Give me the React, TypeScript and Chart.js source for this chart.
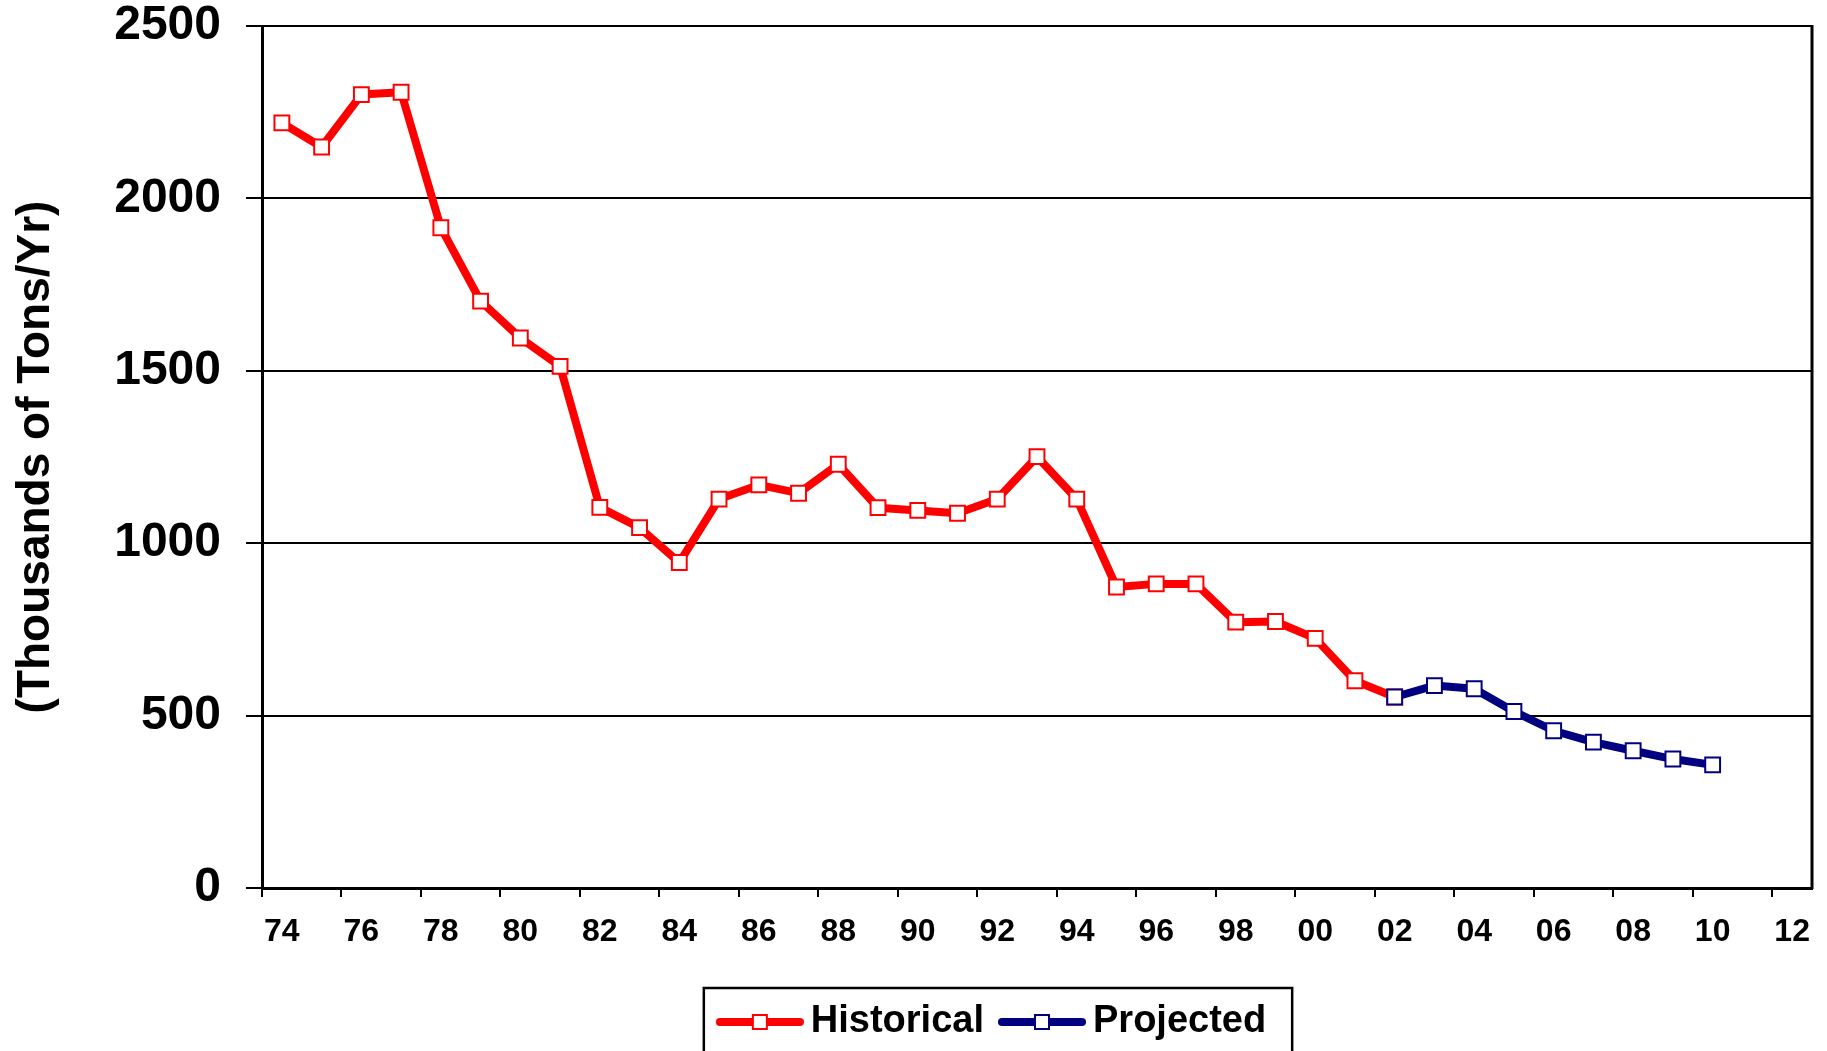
import React, { useEffect, useRef } from 'react';
import { Chart, registerables } from 'chart.js';

Chart.register(...registerables);

// ---- Data ----
const categories = [
  '74', '75', '76', '77', '78', '79', '80', '81', '82', '83',
  '84', '85', '86', '87', '88', '89', '90', '91', '92', '93',
  '94', '95', '96', '97', '98', '99', '00', '01', '02', '03',
  '04', '05', '06', '07', '08', '09', '10', '11', '12',
];

// 1974 .. 2002
const historicalValues = [
  2219, 2149, 2301, 2308, 1915, 1702, 1595, 1513, 1104, 1045,
  944, 1128, 1169, 1145, 1229, 1103, 1095, 1087, 1128, 1251,
  1128, 873, 882, 882, 771, 773, 724, 601, 554,
];

// 2002 .. 2010
const projectedValues = [554, 587, 578, 512, 456, 423, 398, 374, 357];
const projectedStartIndex = 28; // "02"

const yTicks = [0, 500, 1000, 1500, 2000, 2500];

const seriesNames = ['Historical', 'Projected'];

// ---- Styling ----
const FONT = '"Liberation Sans", Arial, Helvetica, sans-serif';
const RED = '#FF0000';
const NAVY = '#000080';
const W = 1827;
const H = 1051;

function makeLegendSample(color: string): HTMLCanvasElement {
  const c = document.createElement('canvas');
  c.width = 111;
  c.height = 20;
  const g = c.getContext('2d')!;
  g.strokeStyle = color;
  g.lineWidth = 8;
  g.lineCap = 'round';
  g.beginPath();
  g.moveTo(23 + 4, 10);
  g.lineTo(111 - 4, 10);
  g.stroke();
  g.fillStyle = '#FFFFFF';
  g.fillRect(67 - 7, 3, 14, 14);
  g.lineWidth = 2;
  g.strokeRect(67 - 7, 3, 14, 14);
  return c;
}

export default function App() {
  const canvasRef = useRef<HTMLCanvasElement | null>(null);

  useEffect(() => {
    document.body.style.margin = '0';
    document.body.style.overflow = 'hidden';
    const canvas = canvasRef.current;
    if (!canvas) return;

    const histData = categories.map((_, i) =>
      i < historicalValues.length ? historicalValues[i] : null
    );
    const projData = categories.map((_, i) => {
      const k = i - projectedStartIndex;
      return k >= 0 && k < projectedValues.length ? projectedValues[k] : null;
    });

    const histSample = makeLegendSample(RED);
    const projSample = makeLegendSample(NAVY);

    const legendPlacer = {
      id: 'legendPlacer',
      afterLayout(chart: any) {
        const lg = chart.legend;
        if (!lg) return;
        const center = 987;
        lg.left = center - 700;
        lg.right = center + 700 - 3;
        lg.width = lg.right - lg.left;
      },
    };

    const frame = {
      id: 'frame',
      afterDraw(chart: any) {
        const { ctx, chartArea: a } = chart;
        ctx.save();
        ctx.strokeStyle = '#000';
        ctx.lineWidth = 3;
        ctx.beginPath();
        ctx.moveTo(a.right, a.top - 1);
        ctx.lineTo(a.right, a.bottom + 1);
        ctx.stroke();
        const lg = chart.legend;
        const hb = lg && lg.legendHitBoxes;
        if (hb && hb.length >= 2) {
          const left = hb[0].left + 11 - 12;
          const last = hb[hb.length - 1];
          const right = last.left + last.width + 26;
          const top = hb[0].top + 19 - 34;
          ctx.lineWidth = 2.5;
          ctx.strokeRect(left, top, right - left, chart.height + 20 - top);
        }
        ctx.restore();
      },
    };

    const chart = new Chart(canvas, {
      type: 'line',
      data: {
        labels: categories,
        datasets: [
          {
            label: seriesNames[1],
            data: projData,
            borderColor: NAVY,
            backgroundColor: NAVY,
            borderWidth: 8,
            borderJoinStyle: 'round',
            borderCapStyle: 'round',
            pointStyle: 'rect',
            pointRadius: 10.5,
            pointBorderWidth: 2,
            pointBorderColor: NAVY,
            pointBackgroundColor: '#FFFFFF',
            tension: 0,
            spanGaps: false,
          },
          {
            label: seriesNames[0],
            data: histData,
            borderColor: RED,
            backgroundColor: RED,
            borderWidth: 8,
            borderJoinStyle: 'round',
            borderCapStyle: 'round',
            pointStyle: 'rect',
            pointRadius: 10.5,
            pointBorderWidth: 2,
            pointBorderColor: RED,
            pointBackgroundColor: '#FFFFFF',
            tension: 0,
            spanGaps: false,
          },
        ],
      },
      options: {
        responsive: false,
        animation: false,
        devicePixelRatio: 1,
        layout: { padding: { top: 26, right: 15, left: 0, bottom: 0 } },
        scales: {
          x: {
            type: 'category',
            offset: true,
            grid: {
              offset: true,
              drawOnChartArea: false,
              drawTicks: true,
              tickLength: 9,
              lineWidth: 2,
              color: (ctx: any) => (ctx.index % 2 === 0 ? '#000000' : 'rgba(0,0,0,0)'),
            },
            border: { display: true, color: '#000000', width: 3 },
            ticks: {
              autoSkip: false,
              maxRotation: 0,
              minRotation: 0,
              padding: 16,
              color: '#000000',
              font: { family: FONT, size: 32, weight: 'bold' },
              callback: (_v: any, i: number) => (i % 2 === 0 ? categories[i] : ''),
            },
            afterFit: (scale: any) => {
              scale.height = 112;
              scale.paddingLeft = 0;
              scale.paddingRight = 0;
            },
          },
          y: {
            type: 'linear',
            min: yTicks[0],
            max: yTicks[yTicks.length - 1],
            grid: {
              color: '#000000',
              lineWidth: 2,
              drawTicks: true,
              tickLength: 16,
            },
            border: { display: true, color: '#000000', width: 3 },
            ticks: {
              stepSize: 500,
              padding: 25,
              color: '#000000',
              font: { family: FONT, size: 48, weight: 'bold' },
              callback: (v: any) => String(v),
            },
            title: {
              display: true,
              text: '(Thousands of Tons/Yr)',
              color: '#000000',
              font: { family: FONT, size: 46, weight: 'bold', lineHeight: 1.2 },
              padding: { top: 9, bottom: 0 },
            },
            afterFit: (scale: any) => {
              scale.width = 262;
              scale.paddingTop = 0;
              scale.paddingBottom = 0;
            },
          },
        },
        plugins: {
          tooltip: { enabled: false },
          title: { display: false },
          legend: {
            display: true,
            position: 'bottom',
            labels: {
              usePointStyle: true,
              pointStyleWidth: 87,
              padding: 3,
              color: '#000000',
              font: { family: FONT, size: 38, weight: 'bold' },
              generateLabels: () => [
                {
                  text: seriesNames[0],
                  pointStyle: histSample,
                  fillStyle: RED,
                  strokeStyle: RED,
                  lineWidth: 0,
                  hidden: false,
                  datasetIndex: 1,
                  fontColor: '#000000',
                },
                {
                  text: seriesNames[1],
                  pointStyle: projSample,
                  fillStyle: NAVY,
                  strokeStyle: NAVY,
                  lineWidth: 0,
                  hidden: false,
                  datasetIndex: 0,
                  fontColor: '#000000',
                },
              ],
            },
          },
        },
      } as any,
      plugins: [legendPlacer, frame],
    });

    return () => {
      chart.destroy();
    };
  }, []);

  return (
    <div style={{ width: W, height: H, background: '#FFFFFF' }}>
      <canvas ref={canvasRef} width={W} height={H} style={{ display: 'block' }} />
    </div>
  );
}
